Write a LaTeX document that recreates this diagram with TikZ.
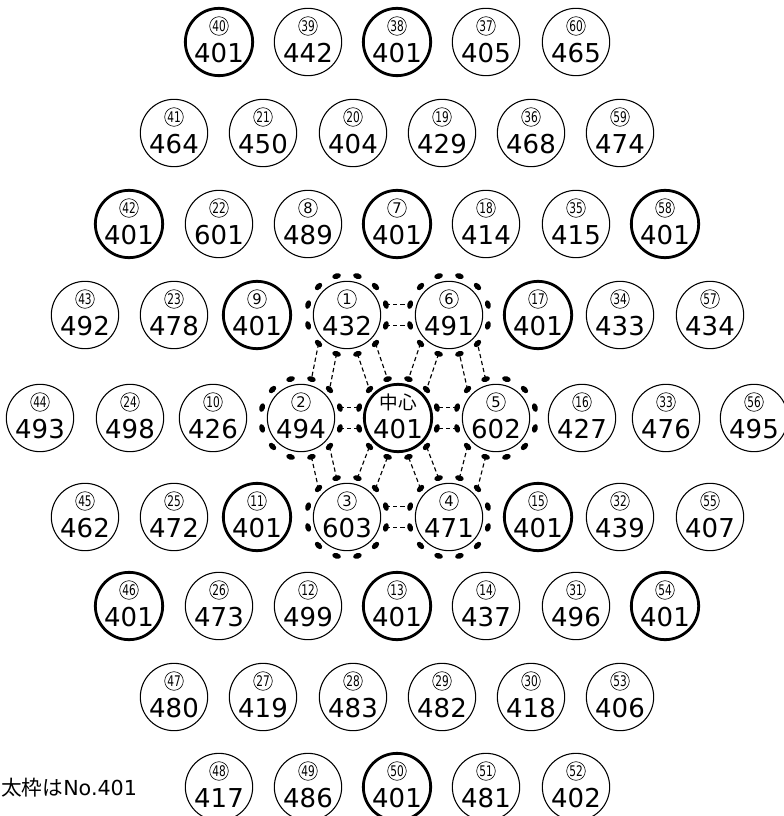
\documentclass[tikz,border=0pt]{standalone}
\usepackage{fontspec}
\setmainfont{DejaVu Sans}
\newfontfamily\jp{Noto Sans CJK JP}
\usetikzlibrary{shapes.geometric}
\newcommand\cn[1]{\ifnum#1>9 \scalebox{0.72}[1]{#1}\else#1\fi}
\tikzset{
  ball/.style={circle,draw,line width=0.8pt,minimum size=50.5pt,inner sep=0pt},
  heavy/.style={ball,line width=2.1pt},
  cnum/.style={circle,draw,line width=0.45pt,minimum size=14pt,inner sep=0pt,font=\fontsize{11}{11}\selectfont},
  val/.style={inner sep=0pt,font=\fontsize{19.5}{19.5}\selectfont},
  ring/.style={circle,minimum size=60pt,inner sep=0pt},
  dot/.style={ellipse,fill,inner sep=0pt,minimum width=4.2pt,minimum height=6.6pt},
  link/.style={line width=0.85pt,dash pattern=on 3.2pt off 2.2pt},
}
\begin{document}
\begin{tikzpicture}[x=0.75pt,y=-0.75pt,line join=round]
\useasboundingbox (0,0) rectangle (783,816);
% the balls, row by row: x/number/value/style
\foreach \y/\row in {
  42/{219/40/401/heavy,308/39/442/ball,397/38/401/heavy,486/37/405/ball,576/60/465/ball},
  133/{174/41/464/ball,263/21/450/ball,353/20/404/ball,442/19/429/ball,531/36/468/ball,620/59/474/ball},
  224/{129/42/401/heavy,219/22/601/ball,308/8/489/ball,397/7/401/heavy,486/18/414/ball,576/35/415/ball,665/58/401/heavy},
  315/{85/43/492/ball,174/23/478/ball,257/9/401/heavy,347/1/432/ball,449/6/491/ball,538/17/401/heavy,620/34/433/ball,710/57/434/ball},
  418/{40/44/493/ball,130/24/498/ball,213/10/426/ball,301/2/494/ball,496/5/602/ball,582/16/427/ball,666/33/476/ball,754/56/495/ball},
  517/{85/45/462/ball,174/25/472/ball,257/11/401/heavy,347/3/603/ball,449/4/471/ball,538/15/401/heavy,620/32/439/ball,710/55/407/ball},
  606/{129/46/401/heavy,219/26/473/ball,308/12/499/ball,397/13/401/heavy,486/14/437/ball,576/31/496/ball,665/54/401/heavy},
  697/{174/47/480/ball,263/27/419/ball,353/28/483/ball,442/29/482/ball,531/30/418/ball,620/53/406/ball},
  787/{219/48/417/ball,308/49/486/ball,397/50/401/heavy,486/51/481/ball,576/52/402/ball}}{
  \foreach \x/\k/\v/\s in \row {
    \node[\s] (n\k) at (\x,\y) {};
    \node[cnum] (c\k) at (\x,\y-16) {\cn{\k}};
    \node[val] (v\k) at (\x,\y+11) {\v};
  }
}
% centre ball
\node[heavy] (nc) at (398,418) {};
\node[inner sep=0pt,font=\jp\fontsize{14}{14}\selectfont] (cc) at (398,402) {中心};
\node[val] (vc) at (398,429) {401};
% dotted rings round the inner six and the centre
\foreach \k in {1,2,3,4,5,6,c}{
  \node[ring] (r\k) at (n\k) {};
  \foreach \a in {15,45,...,345}
    \node[dot,rotate=\a] (d\k-\a) at (r\k.\a) {};
}
% dashed links: from/to/angle
\foreach \a/\b/\t [evaluate=\t as \p using int(\t+15), evaluate=\t as \q using int(\t-15),
    evaluate=\t as \r using int(\t+165), evaluate=\t as \s using int(\t+195)] in
  {1/6/0,1/c/-60,1/2/-120,2/3/-60,2/c/0,3/4/0,3/c/60,4/5/60,4/c/120,5/6/120,5/c/180,6/c/-120}{
  \draw[link] (r\a.\p) -- (r\b.\r);
  \draw[link] (r\a.\q) -- (r\b.\s);
}
\node[anchor=west,inner sep=0pt,font=\fontsize{15.5}{15.5}\selectfont] (note) at (1,788) {{\jp 太枠は}No.401};
\end{tikzpicture}
\end{document}
